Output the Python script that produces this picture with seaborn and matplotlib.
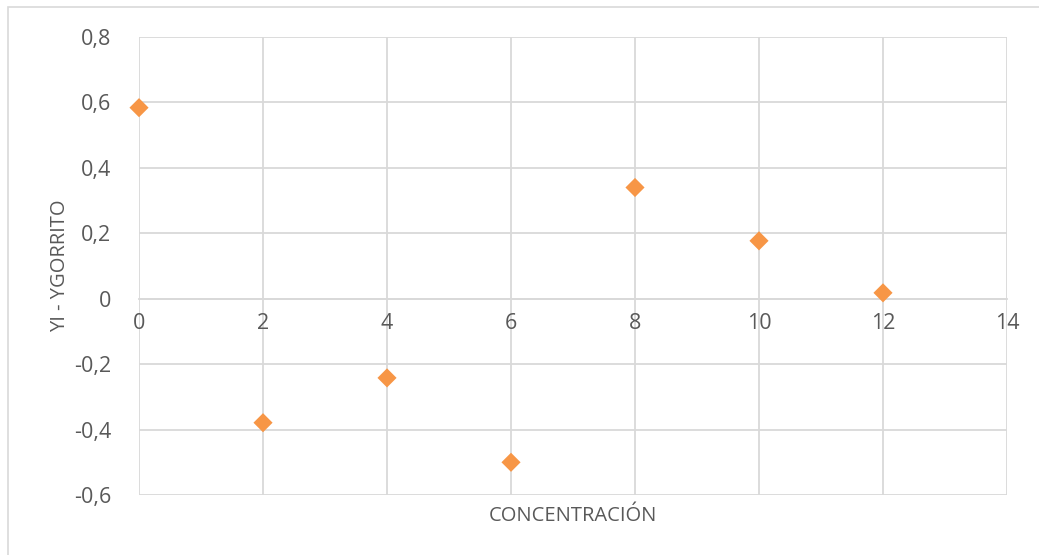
import matplotlib
matplotlib.use("Agg")
import matplotlib.pyplot as plt
import seaborn as sns
import pandas as pd
from matplotlib.patches import Rectangle
from matplotlib.ticker import FuncFormatter

# data
concentracion = [0, 2, 4, 6, 8, 10, 12]
residuo = [0.584, -0.379, -0.242, -0.50, 0.34, 0.177, 0.018]

df = pd.DataFrame({"x": concentracion, "y": residuo})

sns.set_style("white")
plt.rcParams["font.family"] = ["Open Sans", "DejaVu Sans"]

text_col = "#595959"
grid_col = "#D9D9D9"

fig = plt.figure(figsize=(10.39, 5.55), dpi=100)
ax = fig.add_axes([0.1338, 0.1081, 0.8354, 0.8252])

sns.scatterplot(
    data=df,
    x="x",
    y="y",
    marker="D",
    s=95,
    color="#F79646",
    edgecolor="none",
    ax=ax,
    zorder=3,
    clip_on=False
)

ax.set_xlim(0, 14)
ax.set_ylim(-0.6, 0.8)
ax.set_xticks(range(0, 15, 2))
ax.set_yticks([-0.6, -0.4, -0.2, 0, 0.2, 0.4, 0.6, 0.8])

ax.yaxis.set_major_formatter(
    FuncFormatter(lambda v, p: "0" if abs(v) < 1e-9 else f"{v:.1f}".replace(".", ","))
)

ax.grid(True, color=grid_col, linewidth=1.3)
ax.set_axisbelow(True)

for side in ["top", "right", "left"]:
    ax.spines[side].set_visible(False)
ax.spines["bottom"].set_position(("data", 0))
ax.spines["bottom"].set_color(grid_col)
ax.spines["bottom"].set_linewidth(1.3)

ax.tick_params(axis="both", length=0, labelsize=15.5, labelcolor=text_col)
ax.tick_params(axis="x", pad=10)
ax.tick_params(axis="y", pad=20)

ax.set_xlabel("CONCENTRACIÓN", fontsize=14.5, color=text_col)
ax.set_ylabel("YI - YGORRITO", fontsize=14.5, color=text_col)
ax.xaxis.set_label_coords(0.5, -0.025)
ax.yaxis.set_label_coords(-0.08, 0.5)

fig.patches.append(
    Rectangle((0.008, -0.01), 1.0, 0.997, transform=fig.transFigure,
              fill=False, edgecolor="#D9D9D9", linewidth=1.2)
)

fig.savefig("out.png", dpi=100)
